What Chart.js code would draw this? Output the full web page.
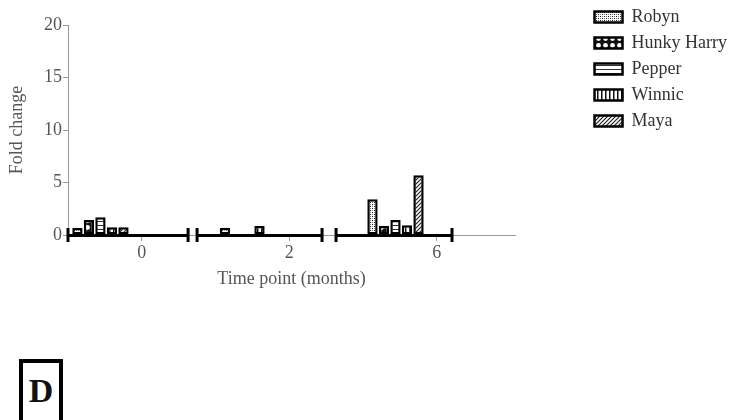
<!DOCTYPE html>
<html>
<head>
<meta charset="utf-8">
<script src="https://cdn.jsdelivr.net/npm/chart.js@4/dist/chart.umd.min.js"></script>
<style>
  body { margin: 0; background: #fff; overflow: hidden; }
  #wrap { position: absolute; left: 0; top: 0; width: 737px; height: 300px; }
  #panel {
    position: absolute; left: 19px; top: 359px; width: 36px; height: 70px;
    border: 4px solid #000; text-align: center;
    font: bold 34px "Liberation Serif", serif; line-height: 56px; color: #111;
  }
</style>
</head>
<body>
<div id="wrap"><canvas id="foldChart"></canvas></div>
<div id="panel">D</div>
<script>
// Data
var timeLabels = ['0', '2', '6'];
var robyn = [0.67, 0.7, 3.4];
var hunkyHarry = [1.43, 0, 0.86];
var pepper = [1.68, 0, 1.43];
var winnic = [0.73, 0.85, 0.92];
var maya = [0.73, 0, 5.69];
var yTicks = [0, 5, 10, 15, 20];

// layout bits (axis units: one slot per time point)
var groupShift = -0.28;
var breakSegments = [[0, 0.814], [0.875, 1.722], [1.817, 2.603]];

Chart.defaults.font.family = '"Liberation Serif", serif';
Chart.defaults.font.size = 18;

function makePattern(size, draw) {
    var c = document.createElement('canvas');
    c.width = size; c.height = size;
    var g = c.getContext('2d');
    g.fillStyle = '#fff';
    g.fillRect(0, 0, size, size);
    draw(g);
    return g.createPattern(c, 'repeat');
}

var dots = makePattern(4, function (g) {
    g.fillStyle = '#222';
    g.fillRect(0, 0, 1, 1);
    g.fillRect(2, 2, 1, 1);
    g.fillStyle = '#777';
    g.fillRect(2, 0, 1, 1);
    g.fillRect(0, 2, 1, 1);
});
var holes = makePattern(7, function (g) {
    g.fillStyle = '#111';
    g.fillRect(0, 0, 7, 7);
    g.fillStyle = '#fff';
    g.beginPath();
    g.arc(3.5, 3.5, 2.4, 0, Math.PI * 2);
    g.fill();
});
var hLines = makePattern(4, function (g) {
    g.fillStyle = '#333';
    g.fillRect(0, 1, 4, 1);
});
var vLines = makePattern(4, function (g) {
    g.fillStyle = '#111';
    g.fillRect(1, 0, 1.5, 4);
});
var diag = makePattern(4, function (g) {
    g.strokeStyle = '#222';
    g.lineWidth = 1.2;
    g.beginPath();
    g.moveTo(0, 4); g.lineTo(4, 0);
    g.moveTo(-1, 1); g.lineTo(1, -1);
    g.moveTo(3, 5); g.lineTo(5, 3);
    g.stroke();
});

function series(label, values, fill) {
    return {
        label: label,
        data: values.map(function (v, i) { return { x: i + 0.5 + groupShift, y: v }; }),
        backgroundColor: fill,
        borderColor: '#000',
        borderWidth: 2.5,
        borderSkipped: false,
        categoryPercentage: 0.39,
        barPercentage: 0.9
    };
}

// thick black baseline pieces with end caps (broken axis look)
var axisBreaks = {
    id: 'axisBreaks',
    afterDatasetsDraw: function (chart) {
        var ctx = chart.ctx;
        var xs = chart.scales.x, y0 = chart.scales.y.getPixelForValue(0);
        ctx.save();
        ctx.strokeStyle = '#000';
        ctx.lineWidth = 3;
        breakSegments.forEach(function (s) {
            var a = xs.getPixelForValue(s[0]), b = xs.getPixelForValue(s[1]);
            ctx.beginPath();
            ctx.moveTo(a, y0 + 0.5); ctx.lineTo(b, y0 + 0.5);
            ctx.moveTo(a, y0 - 7); ctx.lineTo(a, y0 + 7);
            ctx.moveTo(b, y0 - 7); ctx.lineTo(b, y0 + 7);
            ctx.stroke();
        });
        ctx.restore();
    }
};

var foldChart = new Chart(document.getElementById('foldChart').getContext('2d'), {
    type: 'bar',
    data: {
        datasets: [
            series('Robyn', robyn, dots),
            series('Hunky Harry', hunkyHarry, holes),
            series('Pepper', pepper, hLines),
            series('Winnic', winnic, vLines),
            series('Maya', maya, diag)
        ]
    },
    options: {
        responsive: true,
        maintainAspectRatio: false,
        animation: false,
        layout: { padding: 0 },
        plugins: {
            tooltip: { enabled: false },
            legend: {
                position: 'right',
                align: 'start',
                maxWidth: 200,
                labels: {
                    color: '#333',
                    boxWidth: 28,
                    boxHeight: 11,
                    padding: 8,
                    font: { size: 18 }
                }
            }
        },
        scales: {
            x: {
                type: 'linear',
                min: 0,
                max: 3.03,
                offset: false,
                afterBuildTicks: function (axis) {
                    axis.ticks = timeLabels.map(function (t, i) { return { value: i + 0.5 }; });
                },
                afterFit: function (axis) { axis.height = 65; },
                ticks: {
                    color: '#555',
                    padding: 1,
                    autoSkip: false,
                    maxRotation: 0,
                    callback: function (v, i) { return timeLabels[i]; }
                },
                grid: { drawOnChartArea: false, drawTicks: true, tickLength: 6, color: '#999', offset: false },
                border: { color: '#999' },
                title: {
                    display: true,
                    text: 'Time point (months)',
                    color: '#555',
                    padding: { top: 0, bottom: 10 }
                }
            },
            y: {
                min: 0,
                max: 20,
                afterBuildTicks: function (axis) {
                    axis.ticks = yTicks.map(function (v) { return { value: v }; });
                },
                afterFit: function (axis) { axis.width = 68; },
                ticks: { color: '#555', padding: 1 },
                grid: { drawOnChartArea: false, tickLength: 5, color: '#999' },
                border: { color: '#999' },
                title: {
                    display: true,
                    text: 'Fold change',
                    color: '#555',
                    padding: { top: 6 }
                }
            },
            // spacers: keep plot top at 25px and leave a gap before the legend
            top: {
                position: 'top',
                type: 'linear',
                ticks: { display: false },
                grid: { display: false },
                border: { display: false },
                afterFit: function (axis) { axis.height = 25; }
            },
            gap: {
                position: 'right',
                type: 'linear',
                ticks: { display: false },
                grid: { display: false },
                border: { display: false },
                afterFit: function (axis) {
                    var lg = axis.chart.legend;
                    axis.width = lg && lg.width ? Math.max(0, axis.chart.width - lg.width - 515) : 70;
                }
            }
        }
    },
    plugins: [axisBreaks]
});
</script>
</body>
</html>
